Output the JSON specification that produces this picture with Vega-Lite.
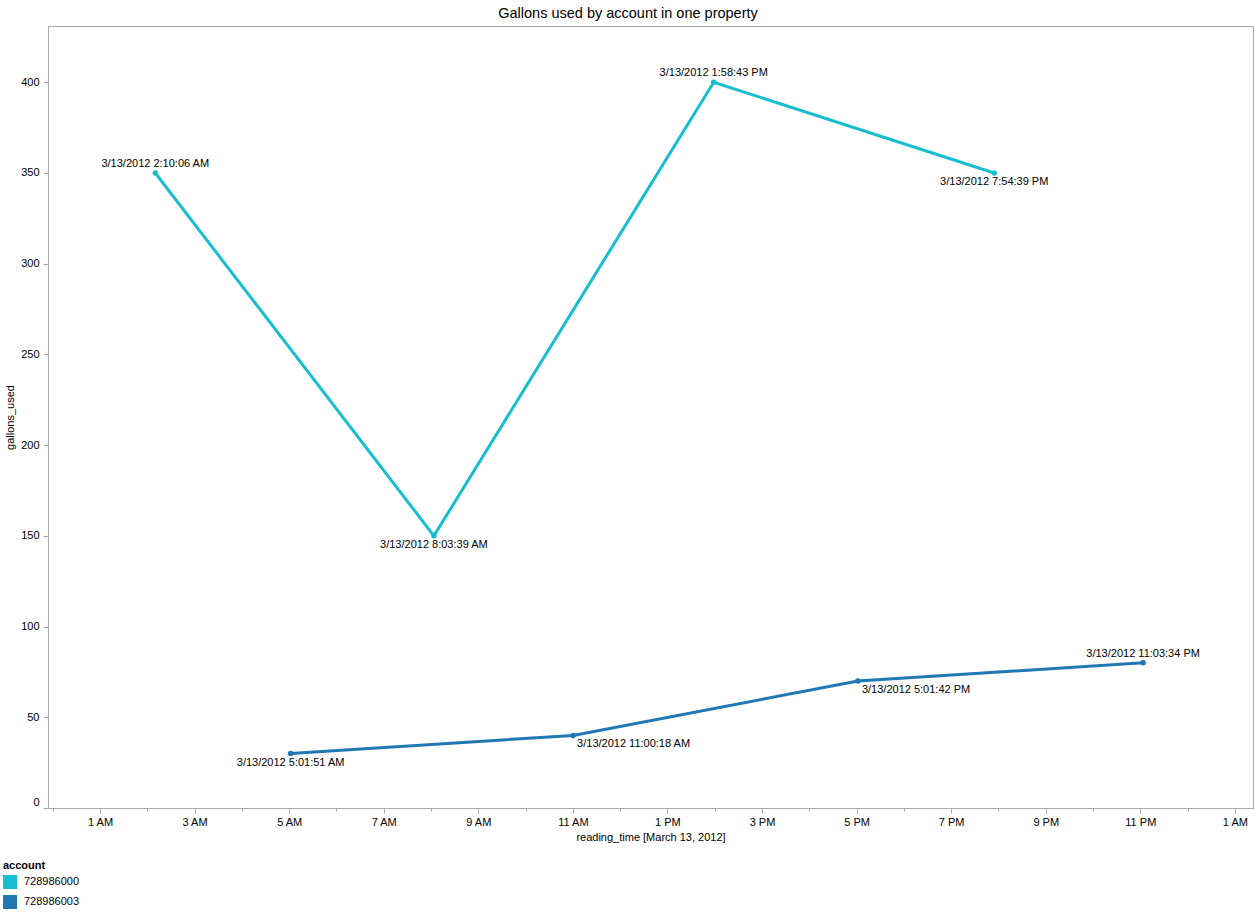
{
  "$schema": "https://vega.github.io/schema/vega-lite/v6.json",
  "width": 1205,
  "height": 782,
  "autosize": {"type": "none"},
  "padding": {"left": 48, "top": 26, "right": 2, "bottom": 105},
  "background": "white",
  "title": {
    "text": "Gallons used by account in one property",
    "anchor": "middle",
    "frame": "bounds",
    "fontSize": 14.5,
    "font": "Liberation Sans",
    "fontWeight": "normal",
    "color": "#000000",
    "offset": 5
  },
  "config": {
    "font": "Liberation Sans",
    "view": {"stroke": "#aaaaaa", "strokeWidth": 1},
    "axis": {
      "grid": false,
      "domainColor": "#aaaaaa",
      "tickColor": "#aaaaaa",
      "labelColor": "#000000",
      "labelFontSize": 11,
      "labelFont": "Liberation Sans",
      "titleColor": "#000000",
      "titleFontSize": 11,
      "titleFont": "Liberation Sans",
      "titleFontWeight": "normal"
    }
  },
  "data": {
    "values": [
      {"account": "728986000", "reading_time": "2012-03-13T02:10:06", "gallons_used": 350},
      {"account": "728986000", "reading_time": "2012-03-13T08:03:39", "gallons_used": 150},
      {"account": "728986000", "reading_time": "2012-03-13T13:58:43", "gallons_used": 400},
      {"account": "728986000", "reading_time": "2012-03-13T19:54:39", "gallons_used": 350},
      {"account": "728986003", "reading_time": "2012-03-13T05:01:51", "gallons_used": 30},
      {"account": "728986003", "reading_time": "2012-03-13T11:00:18", "gallons_used": 40},
      {"account": "728986003", "reading_time": "2012-03-13T17:01:42", "gallons_used": 70},
      {"account": "728986003", "reading_time": "2012-03-13T23:03:34", "gallons_used": 80}
    ]
  },
  "encoding": {
    "x": {
      "field": "reading_time",
      "type": "temporal",
      "title": "reading_time [March 13, 2012]",
      "scale": {"domain": {"expr": "[datetime(2012, 2, 12, 23, 54, 0), datetime(2012, 2, 14, 1, 23, 0)]"}},
      "axis": {
        "tickCount": 26,
        "labelExpr": "hours(datum.value) % 2 === 1 ? timeFormat(datum.value, '%-I %p') : ''",
        "labelOverlap": false,
        "labelFlush": false,
        "tickSize": {"condition": {"test": "hours(datum.value) % 2 === 1", "value": 5}, "value": 3},
        "labelPadding": 3,
        "titlePadding": 4
      }
    },
    "y": {
      "field": "gallons_used",
      "type": "quantitative",
      "title": "gallons_used",
      "scale": {"domain": [0, 431], "nice": false},
      "axis": {
        "values": [0, 50, 100, 150, 200, 250, 300, 350, 400],
        "tickSize": 5,
        "labelPadding": 4,
        "titlePadding": 5,
        "labelOffset": {"condition": {"test": "datum.value === 0", "value": -6}, "value": 0}
      }
    },
    "color": {
      "field": "account",
      "type": "nominal",
      "scale": {"domain": ["728986000", "728986003"], "range": ["#17becf", "#1f77b4"]},
      "legend": {
        "orient": "none",
        "legendX": -45,
        "legendY": 834,
        "padding": 0,
        "title": "account",
        "titleFontSize": 11,
        "titleFontWeight": "bold",
        "titleColor": "#000000",
        "titlePadding": 4,
        "labelFontSize": 11,
        "labelColor": "#000000",
        "labelOffset": 7,
        "symbolType": "square",
        "symbolSize": 196,
        "symbolStrokeWidth": 0,
        "rowPadding": 6
      }
    }
  },
  "layer": [
    {"mark": {"type": "point", "filled": true, "size": 30, "opacity": 1}},
    {"mark": {"type": "line", "strokeWidth": 3}},
    {
      "transform": [{"filter": "datum.gallons_used === 400 || datum.gallons_used === 80 || (datum.gallons_used === 350 && hours(datum.reading_time) < 12)"}],
      "mark": {"type": "text", "fontSize": 11, "font": "Liberation Sans", "baseline": "middle", "align": "center", "dy": -9},
      "encoding": {
        "text": {"field": "reading_time", "type": "temporal", "format": "%-m/%-d/%Y %-I:%M:%S %p"},
        "color": {"value": "#000000"}
      }
    },
    {
      "transform": [{"filter": "datum.gallons_used === 150 || datum.gallons_used === 30 || (datum.gallons_used === 350 && hours(datum.reading_time) >= 12)"}],
      "mark": {"type": "text", "fontSize": 11, "font": "Liberation Sans", "baseline": "middle", "align": "center", "dy": 9},
      "encoding": {
        "text": {"field": "reading_time", "type": "temporal", "format": "%-m/%-d/%Y %-I:%M:%S %p"},
        "color": {"value": "#000000"}
      }
    },
    {
      "transform": [{"filter": "datum.gallons_used === 40 || datum.gallons_used === 70"}],
      "mark": {"type": "text", "fontSize": 11, "font": "Liberation Sans", "baseline": "middle", "align": "left", "dx": 4, "dy": 9},
      "encoding": {
        "text": {"field": "reading_time", "type": "temporal", "format": "%-m/%-d/%Y %-I:%M:%S %p"},
        "color": {"value": "#000000"}
      }
    }
  ]
}
